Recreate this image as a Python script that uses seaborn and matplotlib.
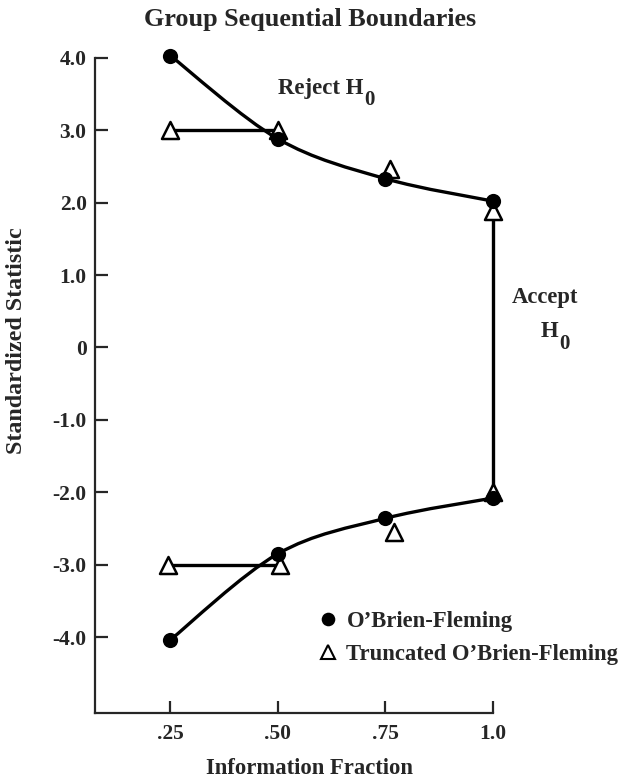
import numpy as np
import pandas as pd
import seaborn as sns
import matplotlib
matplotlib.use("Agg")
import matplotlib.pyplot as plt
from matplotlib.path import Path
from matplotlib.patches import PathPatch
from matplotlib.lines import Line2D

# Information fractions at each interim look
info_frac = [0.25, 0.50, 0.75, 1.0]

# O'Brien-Fleming boundaries (upper / lower)
obf_upper = [4.03, 2.88, 2.33, 2.02]
obf_lower = [-4.04, -2.85, -2.36, -2.08]

# Truncated O'Brien-Fleming boundaries
trunc_x_upper = [0.25, 0.50, 0.76, 1.0]
trunc_upper = [3.0, 3.0, 2.47, 1.88]
trunc_x_lower = [0.245, 0.505, 0.77, 1.0]
trunc_lower = [-3.0, -3.0, -2.55, -2.0]

y_ticks = [4.0, 3.0, 2.0, 1.0, 0.0, -1.0, -2.0, -3.0, -4.0]
y_tick_labels = ["4.0", "3.0", "2.0", "1.0", "0", "-1.0", "-2.0", "-3.0", "-4.0"]
x_tick_labels = [".25", ".50", ".75", "1.0"]
series_names = ["O\u2019Brien-Fleming", "Truncated O\u2019Brien-Fleming"]

sns.set_style("ticks")
plt.rcParams["font.family"] = ["Liberation Serif", "DejaVu Serif"]
plt.rcParams["font.weight"] = "bold"

fig = plt.figure(figsize=(6.21, 7.81), dpi=100)
ax = fig.add_axes([0.153, 0.087, 0.641, 0.839])

LW = 2.4


def smooth_path(xs, ys):
    """Cubic Bezier path through the given points (Catmull-Rom tangents)."""
    pts = np.column_stack([xs, ys])
    n = len(pts)
    verts = [pts[0]]
    codes = [Path.MOVETO]
    for i in range(n - 1):
        p0 = pts[i - 1] if i > 0 else pts[i]
        p1 = pts[i]
        p2 = pts[i + 1]
        p3 = pts[i + 2] if i + 2 < n else pts[i + 1]
        c1 = p1 + (p2 - p0) / 6.0
        c2 = p2 - (p3 - p1) / 6.0
        verts += [c1, c2, p2]
        codes += [Path.CURVE4] * 3
    return Path(verts, codes)


# O'Brien-Fleming boundary curves
for yy in (obf_upper, obf_lower):
    ax.add_patch(PathPatch(smooth_path(info_frac, yy), facecolor="none",
                           edgecolor="black", lw=LW, capstyle="round",
                           zorder=2, clip_on=False))

# Truncated flat segments at the first two looks
flat = pd.DataFrame({"x": trunc_x_upper[:2], "y": trunc_upper[:2]})
sns.lineplot(data=flat, x="x", y="y", color="black", lw=LW, ax=ax, zorder=2)
flat_lo = pd.DataFrame({"x": trunc_x_lower[:2], "y": trunc_lower[:2]})
sns.lineplot(data=flat_lo, x="x", y="y", color="black", lw=LW, ax=ax, zorder=2)

# Final-analysis vertical boundary
final = pd.DataFrame({"x": [info_frac[-1], trunc_x_lower[-1]],
                      "y": [obf_upper[-1], trunc_lower[-1]]})
sns.lineplot(data=final, x="x", y="y", color="black", lw=LW, ax=ax,
             zorder=2, sort=False, estimator=None)
for ln in ax.lines:
    ln.set_clip_on(False)

# Markers
obf_df = pd.DataFrame({"x": info_frac + info_frac, "y": obf_upper + obf_lower})
tr_df = pd.DataFrame({"x": trunc_x_upper + trunc_x_lower,
                      "y": trunc_upper + trunc_lower})
sns.scatterplot(data=tr_df, x="x", y="y", marker="^", s=150,
                color="white", edgecolor="black", linewidth=1.8,
                ax=ax, zorder=3, clip_on=False, legend=False)
sns.scatterplot(data=obf_df, x="x", y="y", marker="o", s=120, color="black",
                edgecolor="black", linewidth=0, ax=ax, zorder=4,
                clip_on=False, legend=False)

# Legend with its own marker sizes
legend_handles = [
    Line2D([], [], ls="none", marker="o", ms=9.8, color="black", mew=0),
    Line2D([], [], ls="none", marker="^", ms=10.0, mfc="white",
           mec="black", mew=1.5),
]
ax.legend(legend_handles, series_names, loc="upper left",
          bbox_to_anchor=(0.535, 0.17), frameon=False,
          handletextpad=0.3, labelspacing=0.55, borderaxespad=0,
          handlelength=1.0,
          prop={"family": "Liberation Serif", "weight": "bold", "size": 16.3})

# Region annotations
rej = ax.text(0.5, 3.5, "Reject H", fontsize=16.5, fontweight="bold",
              ha="left", va="baseline")
ax.annotate("0", xy=(1.0, 0.0), xycoords=rej, xytext=(0.5, -4.5),
            textcoords="offset points", fontsize=15, fontweight="bold",
            ha="left", va="baseline")
ax.text(1.043, 0.62, "Accept", fontsize=16.3, fontweight="bold",
        ha="left", va="baseline", clip_on=False)
acc = ax.text(1.11, 0.14, "H", fontsize=16.5, fontweight="bold",
              ha="left", va="baseline", clip_on=False)
ax.annotate("0", xy=(1.0, 0.0), xycoords=acc, xytext=(0.5, -4.5),
            textcoords="offset points", fontsize=15, fontweight="bold",
            ha="left", va="baseline", annotation_clip=False)

ax.set_xlim(0.075, 1.0)
ax.set_ylim(-5.05, 4.0)
ax.set_xticks(info_frac)
ax.set_xticklabels(x_tick_labels)
ax.set_yticks(y_ticks)
ax.set_yticklabels(y_tick_labels)
ax.tick_params(direction="in", length=9, width=1.6, labelsize=15.5)
ax.tick_params(axis="y", pad=6)
ax.tick_params(axis="x", pad=8)
for lab in ax.get_xticklabels() + ax.get_yticklabels():
    lab.set_fontweight("bold")

sns.despine(ax=ax)
for side in ("left", "bottom"):
    ax.spines[side].set_linewidth(1.6)

ax.set_xlabel("Information Fraction", fontsize=16.3, fontweight="bold")
ax.set_ylabel("Standardized Statistic", fontsize=17.3, fontweight="bold")
ax.xaxis.set_label_coords(0.54, -0.068)
ax.yaxis.set_label_coords(-0.17, 0.569)
fig.suptitle("Group Sequential Boundaries", fontsize=18.8, fontweight="bold",
             x=0.5, y=0.99)

fig.savefig("out.png", dpi=100, facecolor="white")
